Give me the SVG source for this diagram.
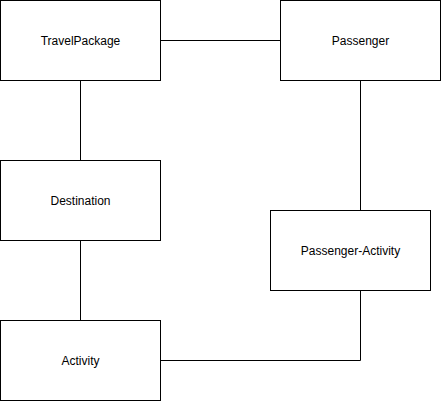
<svg xmlns="http://www.w3.org/2000/svg" width="441" height="401" viewBox="0 0 441 401">
<style>
.box{fill:#fff;stroke:#000;stroke-width:1}
.lbl{font-family:"Liberation Sans",Arial,sans-serif;font-size:12px;fill:#000;text-anchor:middle;dominant-baseline:central}
.edge{fill:none;stroke:#000;stroke-width:1}
</style>
<rect width="441" height="401" fill="#fff"/>
<g id="connectors">
<path class="edge" d="M160.5 40.5H280.5"/>
<path class="edge" d="M80.5 80.5V160.5"/>
<path class="edge" d="M80.5 240.5V320.5"/>
<path class="edge" d="M360.5 80.5V210.5"/>
<path class="edge" d="M160.5 360.5H360.5V290.5"/>
</g>
<g id="travelpackage"><rect class="box" x="0.5" y="0.5" width="160" height="80"/><text class="lbl" x="80.5" y="40.5">TravelPackage</text></g>
<g id="passenger"><rect class="box" x="280.5" y="0.5" width="160" height="80"/><text class="lbl" x="360.5" y="40.5">Passenger</text></g>
<g id="destination"><rect class="box" x="0.5" y="160.5" width="160" height="80"/><text class="lbl" x="80.5" y="200.5">Destination</text></g>
<g id="passenger-activity"><rect class="box" x="270.5" y="210.5" width="160" height="80"/><text class="lbl" x="350.5" y="250.5">Passenger-Activity</text></g>
<g id="activity"><rect class="box" x="0.5" y="320.5" width="160" height="80"/><text class="lbl" x="80.5" y="360.5">Activity</text></g>
</svg>
